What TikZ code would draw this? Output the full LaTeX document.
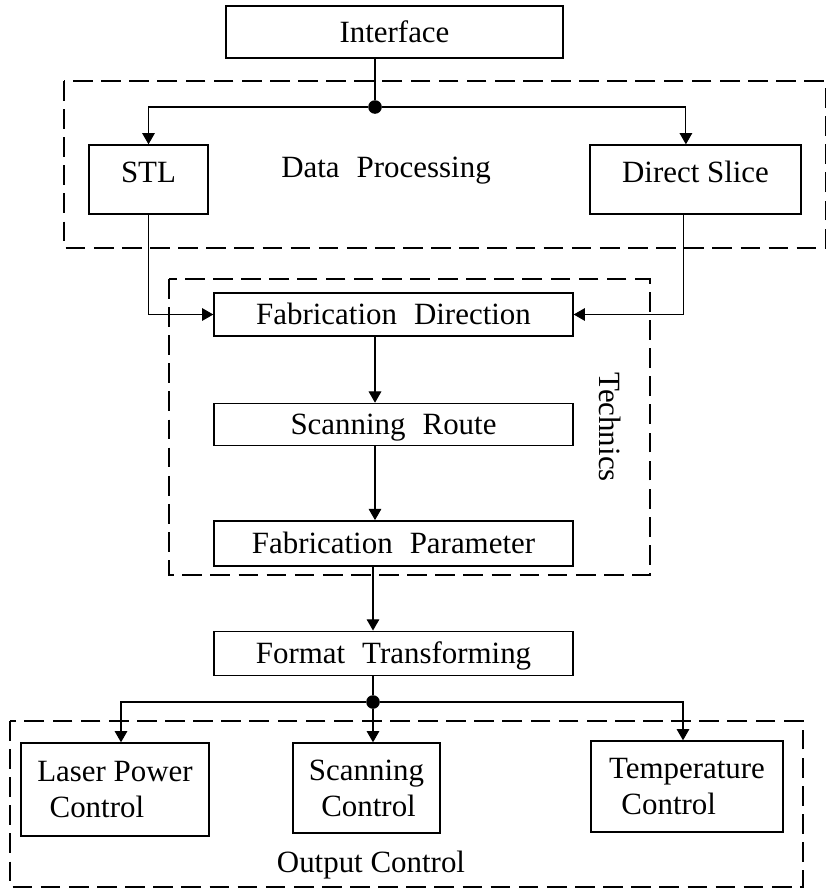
\documentclass[tikz,border=0pt]{standalone}
\usepackage{fontspec}
\setmainfont{Liberation Serif}
\usetikzlibrary{positioning,arrows.meta}

\begin{document}
\begin{tikzpicture}
		[
			font=\fontsize{22}{25.6}\selectfont,
			box/.style={draw, rectangle, line width=1pt, inner sep=0pt, text height=0.6cm, text depth=0.1cm},
			tallbox/.style={draw, rectangle, line width=1pt, inner sep=0pt, text height=0.925cm, text depth=0.8cm},
			ctrlbox/.style={draw, rectangle, line width=1pt, inner sep=0pt, align=left},
			group/.style={draw, line width=0.9pt, dash pattern=on 14pt off 6pt},
			dot/.style={circle, fill, inner sep=0pt, minimum size=0.34cm},
			every path/.style={line width=0.75pt},
			>={Triangle[length=8pt,width=9pt]}
		]

		\useasboundingbox (0,0) rectangle (20.675,-22.225);

		% dashed groups
		\draw[group] (1.6,-2.025) rectangle (20.63,-6.2);
		\draw[group] (4.225,-6.975) rectangle (16.25,-14.375);
		\draw[group] (0.25,-18.025) rectangle (20.075,-22.175);

		\node[box, minimum width=8.425cm, minimum height=1.3cm] (iface) at (9.8625,-0.8) {Interface};
		\node[tallbox, minimum width=2.975cm, anchor=base] (stl) at (3.7125,-4.55) {STL};
		\node[tallbox, minimum width=5.275cm, anchor=base] (dslice) at (17.3875,-4.55) {Direct Slice};
		\node (dplabel) at (9.65,-4.275) {Data\hspace{.3em} Processing};

		\node[box, minimum width=8.975cm, minimum height=1.075cm] (fdir) at (9.8375,-7.8625) {Fabrication\hspace{.3em} Direction};
		\node[box, minimum width=8.975cm, minimum height=1.05cm] (sroute) [below=1.65cm of fdir] {Scanning\hspace{.3em} Route};
		\node[box, minimum width=8.975cm, minimum height=1.125cm] (fparam) [below=1.85cm of sroute] {Fabrication\hspace{.3em} Parameter};
		\node[rotate=-90] (techlabel) at (15.25,-10.675) {Technics};
		\node[box, minimum width=8.975cm, minimum height=1.1cm] (fmt) [below=1.6cm of fparam] {Format\hspace{.3em} Transforming};

		\node[ctrlbox, minimum width=4.7cm, minimum height=2.325cm] (lpc) at (2.875,-19.7375) {Laser Power\\\hspace*{.4em}Control};
		\node[ctrlbox, minimum width=3.675cm, minimum height=2.25cm] (sctrl) at (9.1625,-19.7) {Scanning\\\hspace*{.4em}Control};
		\node[ctrlbox, minimum width=4.8cm, minimum height=2.275cm] (tctrl) at (17.175,-19.6625) {Temperature\\\hspace*{.4em}Control};
		\node (outlabel) at (9.275,-21.625) {Output Control};

		\node[dot] (dot1) at (9.375,-2.675) {};
		\node[dot] (dot2) at (9.325,-17.55) {};

		\draw (iface.south -| dot1) -- (dot1);
		\draw[->] (dot1) -| (stl.north);
		\draw[->] (dot1) -| ([xshift=-.24cm]dslice.north);
		\draw[->] (stl.south) |- (fdir.west);
		\draw[->] ([xshift=-.29cm]dslice.south) |- (fdir.east);
		\draw[->] (fdir.south -| dot1) -- (sroute.north -| dot1);
		\draw[->] (sroute.south -| dot1) -- (fparam.north -| dot1);
		\draw[->] (fparam.south -| dot2) -- (fmt.north -| dot2);
		\draw (fmt.south -| dot2) -- (dot2);
		\draw[->] (dot2) -| ([xshift=.15cm]lpc.north);
		\draw[->] (dot2) -- (sctrl.north -| dot2);
		\draw[->] (dot2) -| ([xshift=-.1cm]tctrl.north);
	\end{tikzpicture}
\end{document}
